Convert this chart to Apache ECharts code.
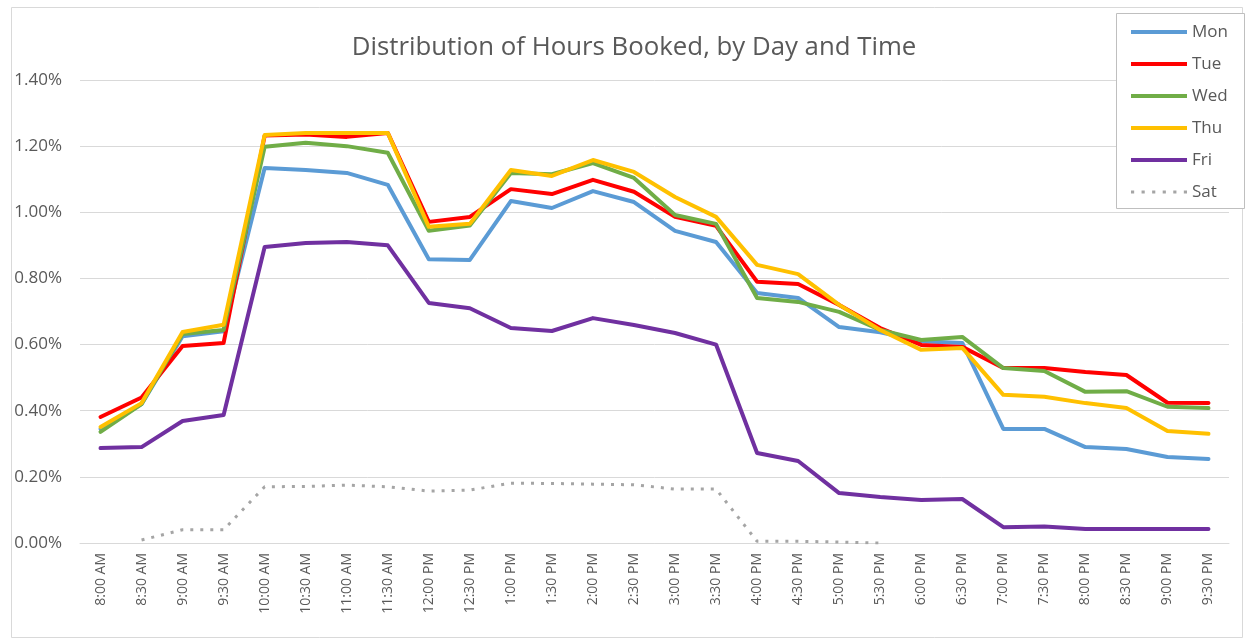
<!DOCTYPE html>
<html>
<head>
<meta charset="utf-8">
<title>Distribution of Hours Booked</title>
<script src="https://cdn.jsdelivr.net/npm/echarts@6/dist/echarts.min.js"></script>
<style>
  html, body { margin: 0; padding: 0; background: #ffffff; }
  #chart { width: 1246px; height: 641px; }
</style>
</head>
<body>
<div id="chart"></div>
<script>
// Half-hour booking slots
const times = ['8:00 AM', '8:30 AM', '9:00 AM', '9:30 AM', '10:00 AM', '10:30 AM', '11:00 AM', '11:30 AM',
  '12:00 PM', '12:30 PM', '1:00 PM', '1:30 PM', '2:00 PM', '2:30 PM', '3:00 PM', '3:30 PM',
  '4:00 PM', '4:30 PM', '5:00 PM', '5:30 PM', '6:00 PM', '6:30 PM', '7:00 PM', '7:30 PM',
  '8:00 PM', '8:30 PM', '9:00 PM', '9:30 PM'];

// Share of all hours booked (percent) per slot, one array per weekday
const mon = [0.345, 0.420, 0.625, 0.640, 1.134, 1.128, 1.119, 1.083, 0.858, 0.856, 1.034, 1.013, 1.064, 1.031,
  0.944, 0.910, 0.756, 0.741, 0.653, 0.637, 0.610, 0.605, 0.345, 0.345, 0.290, 0.284, 0.260, 0.254];
const tue = [0.381, 0.440, 0.596, 0.605, 1.232, 1.235, 1.228, 1.240, 0.971, 0.986, 1.070, 1.055, 1.098, 1.062,
  0.986, 0.959, 0.790, 0.783, 0.720, 0.650, 0.599, 0.593, 0.529, 0.529, 0.517, 0.508, 0.424, 0.423];
const wed = [0.336, 0.420, 0.632, 0.644, 1.198, 1.210, 1.200, 1.180, 0.944, 0.960, 1.119, 1.115, 1.149, 1.104,
  0.992, 0.965, 0.741, 0.729, 0.699, 0.644, 0.614, 0.623, 0.529, 0.520, 0.457, 0.459, 0.412, 0.408];
const thu = [0.351, 0.423, 0.638, 0.660, 1.234, 1.240, 1.240, 1.240, 0.956, 0.965, 1.128, 1.110, 1.158, 1.122,
  1.046, 0.986, 0.841, 0.813, 0.720, 0.644, 0.584, 0.590, 0.448, 0.442, 0.423, 0.408, 0.339, 0.330];
const fri = [0.287, 0.290, 0.369, 0.387, 0.895, 0.907, 0.910, 0.900, 0.726, 0.710, 0.650, 0.641, 0.680, 0.659,
  0.635, 0.600, 0.272, 0.248, 0.151, 0.139, 0.130, 0.133, 0.048, 0.050, 0.042, 0.042, 0.042, 0.042];
const sat = [null, 0.009, 0.040, 0.040, 0.170, 0.171, 0.175, 0.170, 0.157, 0.160, 0.181, 0.180, 0.178, 0.176,
  0.163, 0.163, 0.005, 0.005, 0.003, 0.000, null, null, null, null, null, null, null, null];

const dayNames = ['Mon', 'Tue', 'Wed', 'Thu', 'Fri', 'Sat'];
const dayValues = [mon, tue, wed, thu, fri, sat];
const dayColors = ['#5B9BD5', '#FF0000', '#70AD47', '#FFC000', '#7030A0', '#A5A5A5'];

const yTicks = { min: 0, max: 1.4, interval: 0.2 };

const FONT = '"Open Sans", "Noto Sans", sans-serif';
const TEXT = '#595959';
const GRID_LINE = '#D9D9D9';

// Legend keys: a plain stroke for solid series, a row of square dots for the dotted one
const SOLID_KEY = 'path://M0 0h56v4h-56z';
const DOTTED_KEY = 'path://M0 0h3v3h-3zM10 0h3v3h-3zM20 0h3v3h-3zM30 0h3v3h-3zM40 0h3v3h-3zM50 0h3v3h-3z';

const series = dayNames.map((name, i) => ({
  name: name,
  type: 'line',
  data: dayValues[i],
  symbol: 'none',
  smooth: false,
  connectNulls: false,
  z: 2 + i,
  lineStyle: name === 'Sat'
    ? { color: dayColors[i], width: 3, type: [3, 7], cap: 'butt' }
    : { color: dayColors[i], width: 4, cap: 'round', join: 'round' },
  itemStyle: { color: dayColors[i] },
  emphasis: { disabled: true }
}));

const chart = echarts.init(document.getElementById('chart'), null, { renderer: 'canvas' });

chart.setOption({
  backgroundColor: '#ffffff',
  animation: false,
  textStyle: { fontFamily: FONT },
  title: {
    text: 'Distribution of Hours Booked, by Day and Time',
    left: 629,
    textAlign: 'center',
    top: 30,
    textStyle: { fontFamily: FONT, fontSize: 25.8, fontWeight: 'normal', color: TEXT }
  },
  graphic: [
    {
      type: 'rect',
      z: 0,
      silent: true,
      shape: { x: 11.5, y: 7.5, width: 1231, height: 630 },
      style: { fill: 'none', stroke: GRID_LINE, lineWidth: 1 }
    },
    {
      type: 'rect',
      z: 50,
      silent: true,
      shape: { x: 1116.5, y: 13.5, width: 128, height: 195 },
      style: { fill: '#ffffff', stroke: '#BFBFBF', lineWidth: 1 }
    }
  ],
  legend: {
    orient: 'vertical',
    left: 1116,
    top: 13,
    z: 60,
    padding: [9, 8, 6, 15],
    itemWidth: 56,
    itemHeight: 4,
    itemGap: 12,
    data: dayNames.map(n => ({ name: n, icon: n === 'Sat' ? DOTTED_KEY : SOLID_KEY })),
    textStyle: { fontFamily: FONT, fontSize: 17, lineHeight: 20, color: TEXT }
  },
  grid: { left: 80, right: 17, top: 80, bottom: 98, containLabel: false },
  xAxis: {
    type: 'category',
    data: times,
    boundaryGap: true,
    axisLine: { show: true, lineStyle: { color: GRID_LINE, width: 1 } },
    axisTick: { show: false },
    axisLabel: {
      rotate: 90,
      margin: 10,
      interval: 0,
      fontFamily: FONT,
      fontSize: 14,
      color: TEXT
    }
  },
  yAxis: {
    type: 'value',
    min: yTicks.min,
    max: yTicks.max,
    interval: yTicks.interval,
    axisLine: { show: false },
    axisTick: { show: false },
    splitLine: { show: true, lineStyle: { color: GRID_LINE, width: 1 } },
    axisLabel: {
      margin: 18,
      fontFamily: FONT,
      fontSize: 17,
      color: TEXT,
      formatter: v => v.toFixed(2) + '%'
    }
  },
  series: series
});
</script>
</body>
</html>
